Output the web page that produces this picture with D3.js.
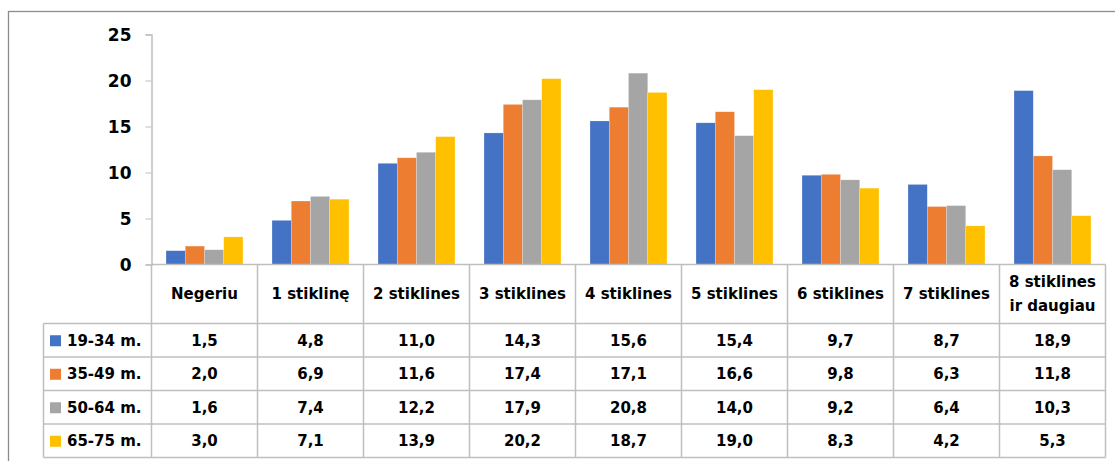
<!DOCTYPE html>
<html>
<head>
<meta charset="utf-8">
<script src="https://cdn.jsdelivr.net/npm/d3@7"></script>
<style>
  html, body { margin: 0; padding: 0; background: #fff; }
  svg { display: block; }
  text { font-family: "DejaVu Sans", sans-serif; font-weight: bold; fill: #000; }
</style>
</head>
<body>
<svg id="chart" width="1115" height="461"></svg>
<script>
// Categories (glasses per day) and age-group series
const categories = ["Negeriu", "1 stiklinę", "2 stiklines", "3 stiklines", "4 stiklines",
                    "5 stiklines", "6 stiklines", "7 stiklines", "8 stiklines\nir daugiau"];
const seriesNames = ["19-34 m.", "35-49 m.", "50-64 m.", "65-75 m."];
const values19_34 = [1.5, 4.8, 11.0, 14.3, 15.6, 15.4, 9.7, 8.7, 18.9];
const values35_49 = [2.0, 6.9, 11.6, 17.4, 17.1, 16.6, 9.8, 6.3, 11.8];
const values50_64 = [1.6, 7.4, 12.2, 17.9, 20.8, 14.0, 9.2, 6.4, 10.3];
const values65_75 = [3.0, 7.1, 13.9, 20.2, 18.7, 19.0, 8.3, 4.2, 5.3];
const yTicks = [0, 5, 10, 15, 20, 25];
const colors = ["#4472C4", "#ED7D31", "#A5A5A5", "#FFC000"];

const seriesValues = [values19_34, values35_49, values50_64, values65_75];
const series = seriesNames.map((name, i) => ({ name, values: seriesValues[i], color: colors[i] }));

const svg = d3.select("#chart");
const FONT = 15;

// outer chart frame
svg.append("rect")
  .attr("x", 8.5).attr("y", 11.5).attr("width", 1120).attr("height", 470)
  .attr("fill", "none").attr("stroke", "#8c8c8c").attr("stroke-width", 1.3);

const plotLeft = 151.5, plotRight = 1105.5;
const y = d3.scaleLinear().domain([0, 25]).range([264.5, 34.5]);
const x = d3.scaleBand().domain(categories).range([plotLeft, plotRight]).padding(0);
const x1 = d3.scaleBand().domain(seriesNames)
  .range([x.bandwidth() * 0.137, x.bandwidth() * 0.863]).padding(0);

// bars
const groups = svg.append("g").selectAll("g")
  .data(categories)
  .join("g")
  .attr("transform", d => `translate(${x(d)},0)`);

groups.selectAll("rect")
  .data((c, ci) => series.map(s => ({ s, v: s.values[ci] })))
  .join("rect")
  .attr("x", d => x1(d.s.name))
  .attr("width", x1.bandwidth())
  .attr("y", d => y(d.v))
  .attr("height", d => y(0) - y(d.v))
  .attr("fill", d => d.s.color)
  .attr("stroke", "#fff").attr("stroke-opacity", 0.35).attr("stroke-width", 0.6);

// y axis
const yAxis = d3.axisLeft(y).tickValues(yTicks).tickSize(6).tickPadding(14).tickFormat(d3.format("d"));
const ya = svg.append("g").attr("transform", `translate(${plotLeft},0)`).call(yAxis);
ya.select(".domain").attr("stroke", "#bfbfbf").attr("stroke-width", 1.5);
ya.selectAll(".tick line").attr("stroke", "#bfbfbf");
ya.selectAll(".tick text").style("font-size", "17px").style("font-family", "'DejaVu Sans', sans-serif")
  .style("font-weight", "bold").attr("dy", "0.36em");

// data table
const gridColor = "#bfbfbf";
const headTop = y(0), headBottom = 323.5;
const rowH = 33.5;
const tableLeft = 43.5;
const tableBottom = headBottom + rowH * series.length;
const tbl = svg.append("g");

// horizontal lines
tbl.append("line").attr("x1", plotLeft).attr("x2", plotRight).attr("y1", headTop).attr("y2", headTop)
  .attr("stroke", gridColor).attr("stroke-width", 1.5);
d3.range(series.length + 1).forEach(i => {
  const yy = headBottom + i * rowH;
  tbl.append("line").attr("x1", tableLeft).attr("x2", plotRight).attr("y1", yy).attr("y2", yy)
    .attr("stroke", gridColor).attr("stroke-width", 1.5);
});
// vertical lines
categories.forEach(c => {
  tbl.append("line").attr("x1", x(c)).attr("x2", x(c)).attr("y1", headTop).attr("y2", tableBottom)
    .attr("stroke", gridColor).attr("stroke-width", 1.5);
});
tbl.append("line").attr("x1", plotRight).attr("x2", plotRight).attr("y1", headTop).attr("y2", tableBottom)
  .attr("stroke", gridColor).attr("stroke-width", 1.5);
tbl.append("line").attr("x1", tableLeft).attr("x2", tableLeft).attr("y1", headBottom).attr("y2", tableBottom)
  .attr("stroke", gridColor).attr("stroke-width", 1.5);

// header labels
categories.forEach(c => {
  const lines = c.split("\n");
  const cx = x(c) + x.bandwidth() / 2;
  const cy = (headTop + headBottom) / 2;
  const lh = 24;
  const t = tbl.append("text").attr("text-anchor", "middle").style("font-size", FONT + "px");
  lines.forEach((ln, i) => {
    t.append("tspan").attr("x", cx)
      .attr("y", cy + (i - (lines.length - 1) / 2) * lh)
      .attr("dy", "0.36em").text(ln);
  });
});

// series rows
series.forEach((s, si) => {
  const cy = headBottom + rowH * si + rowH / 2;
  tbl.append("rect").attr("x", 50).attr("y", cy - 5).attr("width", 11).attr("height", 11).attr("fill", s.color);
  tbl.append("text").attr("x", 67).attr("y", cy).attr("dy", "0.36em").style("font-size", FONT + "px").text(s.name);
  s.values.forEach((v, ci) => {
    tbl.append("text").attr("x", x(categories[ci]) + x.bandwidth() / 2).attr("y", cy).attr("dy", "0.36em")
      .attr("text-anchor", "middle").style("font-size", FONT + "px")
      .text(d3.format(".1f")(v).replace(".", ","));
  });
});
</script>
</body>
</html>
